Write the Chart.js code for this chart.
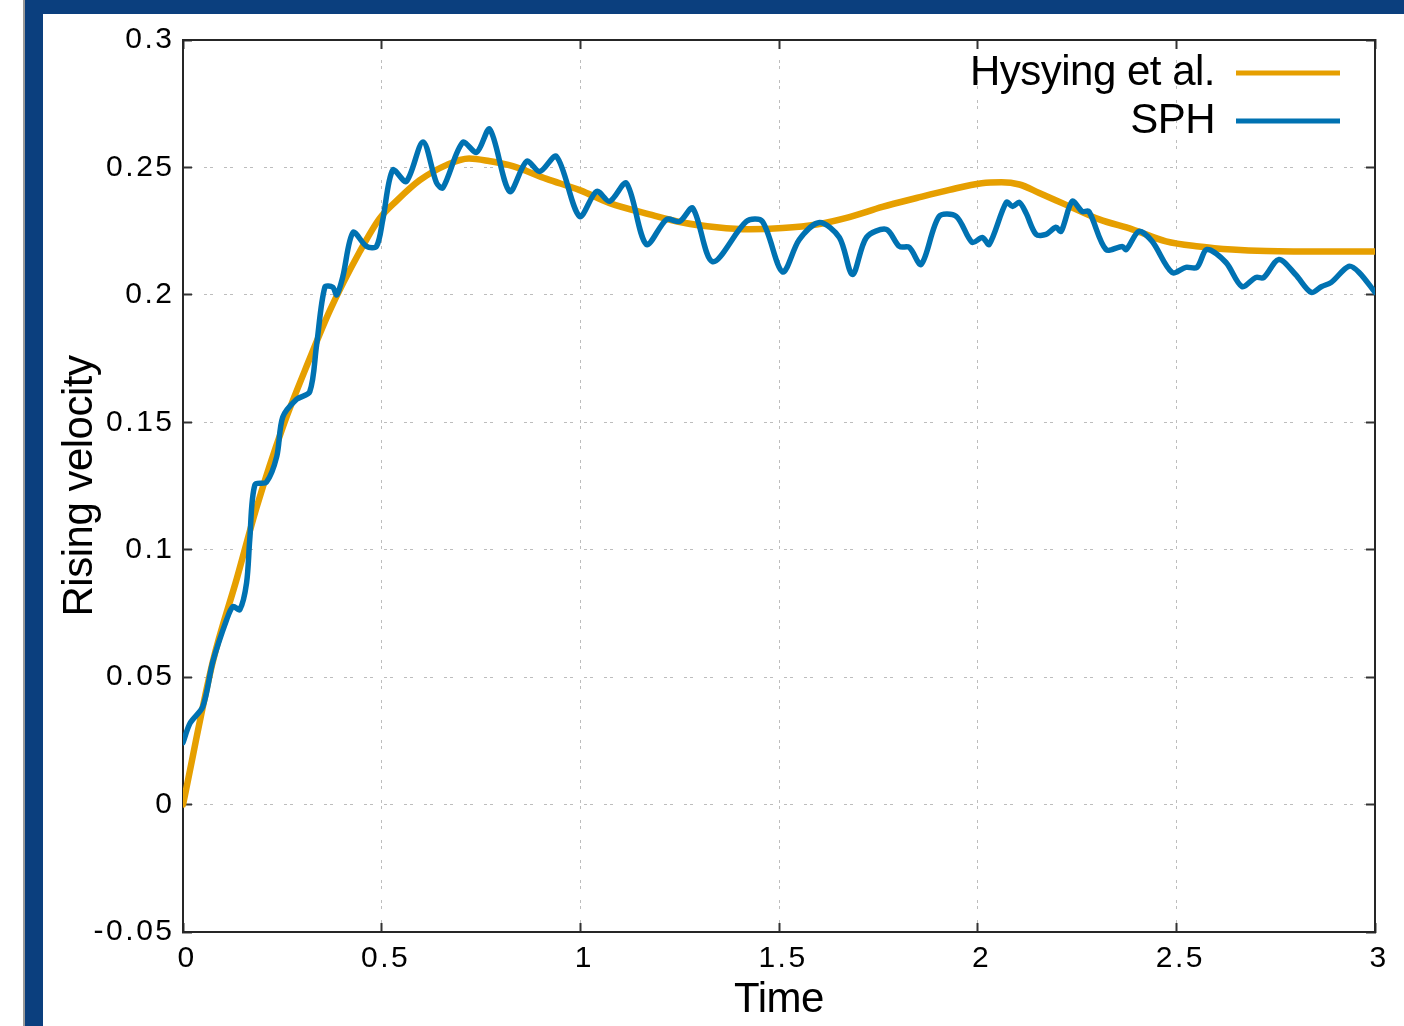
<!DOCTYPE html>
<html><head><meta charset="utf-8">
<script src="https://cdn.jsdelivr.net/npm/chart.js@4.4.1/dist/chart.umd.min.js"></script>
<style>
html,body{margin:0;padding:0;background:#fff;width:1404px;height:1026px;overflow:hidden;position:relative}
#gray{position:absolute;left:23px;top:0;width:2px;height:1026px;background:#9a9a9a}
#barL{position:absolute;left:25px;top:0;width:18px;height:1026px;background:#0b3f7e}
#barT{position:absolute;left:25px;top:0;width:1379px;height:14px;background:#0b3f7e}
#wrap{position:absolute;left:43px;top:14px;width:1361px;height:1012px;background:#fff}
</style></head><body>
<div id="gray"></div><div id="barL"></div><div id="barT"></div>
<div id="wrap"><canvas id="c" width="1361" height="1012"></canvas></div>
<script>
// ---- data ----
const seriesNames = ['Hysying et al.', 'SPH'];
const xTitle = 'Time';
const yTitle = 'Rising velocity';
const xMin = 0, xMax = 3, xStep = 0.5;
const yMin = -0.05, yMax = 0.3, yStep = 0.05;
const xTickLabels = ['0', '0.5', '1', '1.5', '2', '2.5', '3'];
const yTickLabels = ['-0.05', '0', '0.05', '0.1', '0.15', '0.2', '0.25', '0.3'];

const tHys = [0, 0.075, 0.136, 0.186, 0.251, 0.319, 0.37, 0.445, 0.495, 0.538, 0.596, 0.664, 0.72, 0.77, 0.83, 0.915, 1.0, 1.074, 1.174, 1.257, 1.343, 1.426, 1.509, 1.594, 1.677, 1.76, 1.846, 1.929, 2.01, 2.06, 2.105, 2.155, 2.22, 2.306, 2.389, 2.474, 2.557, 2.64, 2.726, 2.89, 3.0];
const vHys = [0, 0.056, 0.089, 0.117, 0.148, 0.175, 0.194, 0.217, 0.23, 0.237, 0.245, 0.251, 0.2535, 0.2525, 0.2505, 0.2455, 0.241, 0.236, 0.2316, 0.2284, 0.2265, 0.2257, 0.2262, 0.2276, 0.2305, 0.2345, 0.238, 0.2412, 0.2438, 0.2442, 0.2433, 0.240, 0.2355, 0.2296, 0.2257, 0.221, 0.219, 0.2178, 0.2172, 0.217, 0.217];

const tSph = [0, 0.018, 0.05, 0.075, 0.11, 0.126, 0.143, 0.16, 0.168, 0.181, 0.21, 0.236, 0.251, 0.286, 0.319, 0.336, 0.357, 0.377, 0.387, 0.402, 0.428, 0.462, 0.487, 0.503, 0.528, 0.562, 0.604, 0.638, 0.654, 0.704, 0.739, 0.772, 0.822, 0.865, 0.898, 0.94, 0.998, 1.041, 1.074, 1.116, 1.166, 1.217, 1.25, 1.283, 1.333, 1.418, 1.458, 1.509, 1.551, 1.602, 1.652, 1.685, 1.72, 1.77, 1.803, 1.828, 1.858, 1.903, 1.946, 1.986, 2.012, 2.029, 2.072, 2.088, 2.105, 2.122, 2.147, 2.172, 2.197, 2.21, 2.238, 2.263, 2.28, 2.323, 2.364, 2.374, 2.406, 2.439, 2.489, 2.524, 2.552, 2.577, 2.625, 2.665, 2.70, 2.72, 2.758, 2.80, 2.839, 2.866, 2.89, 2.934, 2.96, 3.0];
const vSph = [0.0243, 0.032, 0.0385, 0.056, 0.0726, 0.0777, 0.0765, 0.087, 0.104, 0.1255, 0.1265, 0.1366, 0.152, 0.159, 0.162, 0.18, 0.203, 0.203, 0.200, 0.207, 0.2245, 0.219, 0.219, 0.2296, 0.249, 0.2445, 0.260, 0.244, 0.242, 0.2598, 0.2559, 0.265, 0.2406, 0.2524, 0.2484, 0.2543, 0.2308, 0.2406, 0.2367, 0.2438, 0.2198, 0.2296, 0.2288, 0.234, 0.213, 0.2288, 0.2288, 0.209, 0.2217, 0.2284, 0.2225, 0.208, 0.2225, 0.2257, 0.219, 0.2186, 0.212, 0.2308, 0.2308, 0.2206, 0.2225, 0.2198, 0.2363, 0.2347, 0.2363, 0.232, 0.2237, 0.2237, 0.2265, 0.2249, 0.2367, 0.2327, 0.2327, 0.2178, 0.219, 0.2178, 0.2249, 0.221, 0.2088, 0.2108, 0.2108, 0.2178, 0.2127, 0.2033, 0.2068, 0.2068, 0.2139, 0.208, 0.201, 0.2033, 0.2049, 0.2112, 0.2088, 0.201];

const colHys = '#E69F00';
const colSph = '#0072B2';

const toPts = (xs, ys) => xs.map((x, i) => ({x: x, y: ys[i]}));

Chart.defaults.font.family = "'Liberation Sans', Arial, sans-serif";
Chart.defaults.color = '#000';

const helperPlugin = {
  id: 'helper',
  beforeDraw(chart) { chart.ctx.letterSpacing = '-0.5px'; },
  afterDatasetsDraw(chart) { chart.ctx.letterSpacing = '2.5px'; },
  afterDraw(chart) { chart.ctx.letterSpacing = '0px'; },
  afterLayout(chart) {
    const lg = chart.legend;
    if (!lg) return;
    lg.width = 700; lg.right = 1303; lg.left = 1303 - 700;
    lg.top = 32; lg.height = 160; lg.bottom = 192;
  }
};

const tickFont = {family: "'Liberation Sans', Arial, sans-serif", size: 30, lineHeight: 1.2};
const titleFont = {family: "'Liberation Sans', Arial, sans-serif", size: 42, lineHeight: 1.2};
const gridOpts = {color: '#bdbdbd', lineWidth: 1, drawTicks: true, tickLength: -9, tickColor: '#333', tickWidth: 2};
const borderOpts = {display: true, color: '#262626', width: 2, dash: [3, 3, 3, 11]};
const noPad = s => { s.paddingLeft = 0; s.paddingRight = 0; s.paddingTop = 0; s.paddingBottom = 0; };

new Chart(document.getElementById('c'), {
  type: 'line',
  data: {
    datasets: [
      {label: seriesNames[0], data: toPts(tHys, vHys), borderColor: colHys, backgroundColor: colHys,
       borderWidth: 6.5, pointRadius: 0, pointHitRadius: 0, cubicInterpolationMode: 'monotone',
       borderJoinStyle: 'round', borderCapStyle: 'round', order: 2, xAxisID: 'x', yAxisID: 'y'},
      {label: seriesNames[1], data: toPts(tSph, vSph), borderColor: colSph, backgroundColor: colSph,
       borderWidth: 5.5, pointRadius: 0, pointHitRadius: 0, tension: 0.3,
       borderJoinStyle: 'round', borderCapStyle: 'round', order: 1, xAxisID: 'x', yAxisID: 'y'}
    ]
  },
  options: {
    responsive: false, animation: false, devicePixelRatio: 1,
    layout: {padding: {top: 26, right: 29, left: 0, bottom: 0}},
    plugins: {
      tooltip: {enabled: false},
      legend: {
        position: 'chartArea', align: 'start', rtl: true, textDirection: 'ltr',
        labels: {
          boxWidth: 104, boxHeight: 5, padding: 6, color: '#000',
          font: {family: "'Liberation Sans', Arial, sans-serif", size: 42},
          sort: (a, b) => a.datasetIndex - b.datasetIndex,
          generateLabels(chart) {
            const items = Chart.defaults.plugins.legend.labels.generateLabels(chart);
            items.forEach(it => { it.fillStyle = it.strokeStyle; it.lineWidth = 0; });
            return items;
          }
        }
      }
    },
    scales: {
      x: {
        type: 'linear', position: 'bottom', min: xMin, max: xMax,
        ticks: {stepSize: xStep, padding: 18, labelOffset: 4, color: '#000', font: tickFont, z: 1, maxRotation: 0, autoSkip: false,
                callback: (v, i) => xTickLabels[i]},
        grid: gridOpts, border: borderOpts,
        title: {display: true, text: xTitle, color: '#000', font: titleFont, padding: {top: 0, bottom: 0}},
        afterFit(s) { s.height = 94; noPad(s); }
      },
      y: {
        type: 'linear', position: 'left', min: yMin, max: yMax,
        ticks: {stepSize: yStep, padding: 17.5, color: '#000', font: tickFont, z: 1, autoSkip: false,
                callback: (v, i) => yTickLabels[i]},
        grid: gridOpts, border: borderOpts,
        title: {display: true, text: yTitle, color: '#000', font: titleFont, padding: {top: 12, bottom: 0}},
        afterFit(s) { s.width = 140; noPad(s); }
      },
      x2: {
        type: 'linear', position: 'top', min: xMin, max: xMax,
        ticks: {stepSize: xStep, display: false},
        grid: {drawOnChartArea: false, drawTicks: true, tickLength: -9, tickColor: '#333', tickWidth: 2},
        border: {display: true, color: '#262626', width: 2},
        afterFit(s) { s.height = 0; noPad(s); }
      },
      y2: {
        type: 'linear', position: 'right', min: yMin, max: yMax,
        ticks: {stepSize: yStep, display: false},
        grid: {drawOnChartArea: false, drawTicks: true, tickLength: -9, tickColor: '#333', tickWidth: 2},
        border: {display: true, color: '#262626', width: 2},
        afterFit(s) { s.width = 0; noPad(s); }
      }
    }
  },
  plugins: [helperPlugin]
});
</script>
</body></html>
